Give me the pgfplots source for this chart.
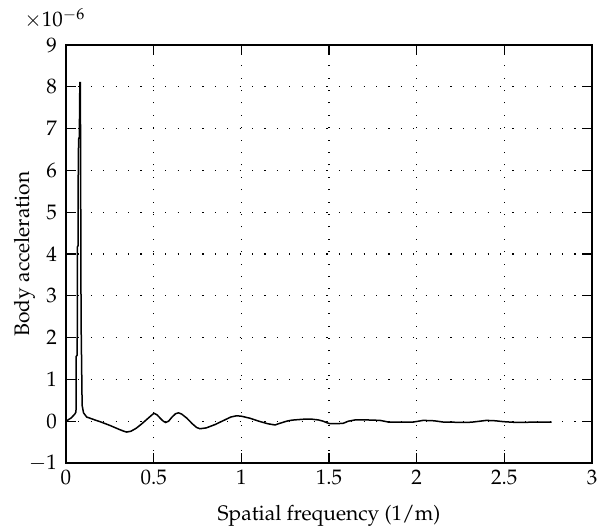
\documentclass[border=0pt]{standalone}
\usepackage[T1]{fontenc}
\usepackage{mathpazo}
\usepackage{pgfplots}
\pgfplotsset{compat=1.18}
\usetikzlibrary{calc}
\begin{document}
\begin{tikzpicture}[font=\fontsize{10.5pt}{12.5pt}\selectfont]
\begin{axis}[
  scale only axis,
  width=263pt, height=209pt,
  xmin=0, xmax=3, ymin=-1, ymax=9,
  xtick={0,0.5,1,1.5,2,2.5,3},
  xticklabels={0,0.5,1,1.5,2,2.5,3},
  ytick={-1,0,1,2,3,4,5,6,7,8,9},
  yticklabels={$-$1,0,1,2,3,4,5,6,7,8,9},
  tick align=inside,
  ticks=both,
  xtick pos=both, ytick pos=both,
  major tick length=5pt,
  tick style={black, line width=0.6pt},
  axis line style={line width=0.6pt},
  grid=major,
  major grid style={black, line width=0.55pt, dash pattern=on 0.55pt off 5.65pt},
  xlabel={Spatial frequency (1/m)},
  ylabel={Body acceleration},
  xlabel style={yshift=-3pt},
  ylabel style={yshift=-10pt},
  yticklabel style={xshift=-1pt},
  tick label style={font=\fontsize{10.5pt}{12.5pt}\selectfont},
  label style={font=\fontsize{10.5pt}{12.5pt}\selectfont},
]
\addplot[black, line width=0.75pt] coordinates {
(0,0) (0.03,0.08) (0.050,0.17) (0.057,0.22) (0.058,1.55) (0.064,1.58)
(0.065,4.17) (0.069,4.2) (0.070,6.15) (0.072,6.75) (0.076,6.8) (0.079,8.1)
(0.082,8.1) (0.086,2.4) (0.092,0.38) (0.100,0.2) (0.118,0.1) (0.165,0.03)
(0.2,-0.02) (0.25,-0.1) (0.3,-0.19) (0.33,-0.24) (0.346,-0.26) (0.37,-0.24)
(0.4,-0.17) (0.43,-0.07) (0.46,0.04) (0.49,0.15) (0.502,0.19) (0.52,0.15)
(0.54,0.06) (0.555,0.0) (0.568,-0.03) (0.585,0.0) (0.605,0.1) (0.625,0.18)
(0.642,0.2) (0.66,0.17) (0.69,0.07) (0.72,-0.06) (0.745,-0.15) (0.764,-0.18)
(0.8,-0.16) (0.85,-0.08) (0.9,0.02) (0.94,0.1) (0.973,0.13) (1.0,0.12)
(1.05,0.07) (1.1,0.0) (1.15,-0.06) (1.192,-0.09) (1.22,-0.05) (1.258,0)
(1.28,0.02) (1.30,0.03) (1.33,0.04) (1.363,0.05) (1.40,0.05) (1.44,0.03)
(1.467,0) (1.49,-0.04) (1.505,-0.06) (1.54,-0.06) (1.581,-0.05) (1.61,0.0)
(1.648,0.03) (1.72,0.03) (1.79,0.02) (1.815,0.0) (1.838,-0.02) (1.98,-0.02)
(2.01,0.0) (2.037,0.02) (2.10,0.01) (2.151,-0.02) (2.285,-0.03) (2.32,-0.02)
(2.36,0.0) (2.398,0.02) (2.45,0.01) (2.493,-0.01) (2.53,-0.02) (2.57,-0.03)
(2.70,-0.02) (2.77,-0.02)
};
\coordinate (SW) at (rel axis cs:0,0);
\coordinate (NE) at (rel axis cs:1,1);
\end{axis}
\node[anchor=south west, inner sep=0pt] at ($(SW|-NE)+(-21pt,8pt)$) {$\times$10$^{-6}$};
\pgfresetboundingbox
\path ($(SW)+(-33pt,-34pt)$) rectangle ($(NE)+(2.5pt,22.5pt)$);
\end{tikzpicture}
\end{document}
